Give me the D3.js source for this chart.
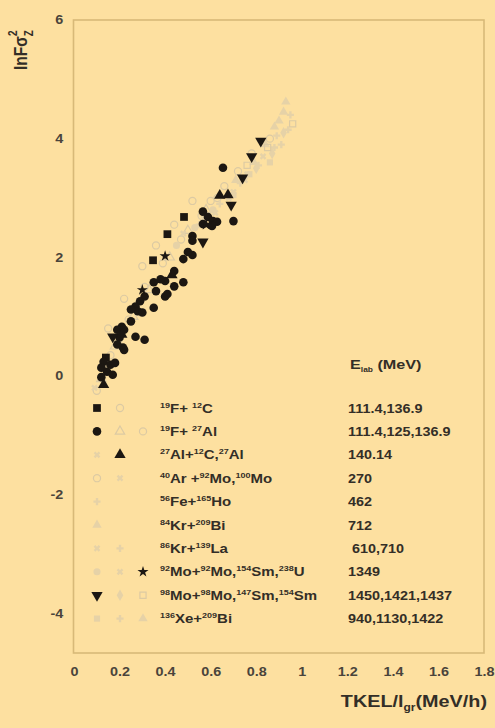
<!DOCTYPE html>
<html>
<head>
<meta charset="utf-8">
<script src="https://cdn.jsdelivr.net/npm/d3@7/dist/d3.min.js"></script>
<style>
  html, body { margin: 0; padding: 0; background: #FDE0A0; }
  svg { display: block; font-family: "Liberation Sans", Arial, sans-serif; }
</style>
</head>
<body>
<svg id="chart" width="495" height="728"></svg>
<script>
// ---- axis ticks ----
const xTicks = [0, 0.2, 0.4, 0.6, 0.8, 1, 1.2, 1.4, 1.6, 1.8];
const xTickLabels = ["0", "0.2", "0.4", "0.6", "0.8", "1", "1.2", "1.4", "1.6", "1.8"];
const yTicks = [-4, -2, 0, 2, 4, 6];
const yTickLabels = ["-4", "-2", "0", "2", "4", "6"];

// ---- legend rows: reaction and bombarding energies ----
const reactions = [
  "^{19}F+ ^{12}C",
  "^{19}F+ ^{27}Al",
  "^{27}Al+^{12}C,^{27}Al",
  "^{40}Ar +^{92}Mo,^{100}Mo",
  "^{56}Fe+^{165}Ho",
  "^{84}Kr+^{209}Bi",
  "^{86}Kr+^{139}La",
  "^{92}Mo+^{92}Mo,^{154}Sm,^{238}U",
  "^{98}Mo+^{98}Mo,^{147}Sm,^{154}Sm",
  "^{136}Xe+^{209}Bi"
];
const energies = [
  "111.4,136.9",
  "111.4,125,136.9",
  "140.14",
  "270",
  "462",
  "712",
  " 610,710",
  "1349",
  "1450,1421,1437",
  "940,1130,1422"
];

// ---- measured points [TKEL/l_gr, ln F sigma_Z^2] ----
const fC_dark = [[0.347, 1.95], [0.41, 2.39], [0.483, 2.68], [0.14, 0.31]];
const fC_light = [[0.15, 0.80], [0.22, 1.30], [0.30, 1.85], [0.36, 2.20], [0.44, 2.55], [0.52, 2.95]];
const fAl_dark = [
  [0.654, 3.51], [0.566, 2.77], [0.588, 2.68], [0.61, 2.61], [0.628, 2.60], [0.606, 2.53],
  [0.70, 2.61], [0.566, 2.56], [0.52, 2.36], [0.52, 2.28], [0.52, 2.04], [0.50, 2.09],
  [0.48, 1.97], [0.44, 1.77], [0.40, 1.60], [0.38, 1.63], [0.35, 1.58], [0.48, 1.58],
  [0.44, 1.51], [0.36, 1.43], [0.40, 1.34], [0.31, 1.34], [0.29, 1.26], [0.27, 1.17],
  [0.28, 1.09], [0.25, 1.12], [0.35, 1.15], [0.21, 0.83], [0.19, 0.78], [0.22, 0.78],
  [0.27, 0.66], [0.31, 0.61], [0.20, 0.65], [0.215, 0.48], [0.19, 0.53], [0.22, 0.44],
  [0.13, 0.24], [0.16, 0.19], [0.12, 0.14], [0.145, 0.07], [0.17, 0.02],
  [0.18, 0.22], [0.12, -0.02], [0.25, 0.92], [0.41, 1.38], [0.30, 1.07]
];
const fAl_lightTri = [[0.12, -0.05], [0.18, 0.50], [0.26, 1.00], [0.33, 1.45], [0.42, 2.00], [0.50, 2.45], [0.58, 2.80]];
const fAl_lightCirc = [[0.10, -0.25], [0.16, 0.35], [0.24, 0.95], [0.31, 1.50], [0.39, 1.90], [0.47, 2.30], [0.56, 2.70], [0.63, 3.00]];
const alAl_light = [[0.09, -0.20], [0.14, 0.15], [0.20, 0.55], [0.28, 1.05]];
const alAl_dark = [[0.64, 3.04], [0.676, 3.05], [0.13, -0.15], [0.21, 0.70], [0.43, 1.70]];
const arMo_circ = [[0.60, 2.95], [0.66, 3.20], [0.72, 3.45], [0.78, 3.75], [0.86, 4.00]];
const arMo_x = [[0.62, 2.75], [0.70, 3.10], [0.76, 3.40]];
const feHo = [[0.55, 2.55], [0.64, 2.90], [0.73, 3.25], [0.81, 3.55], [0.88, 3.85]];
const krBi = [[0.93, 4.62], [0.90, 4.30], [0.84, 3.90], [0.79, 3.60], [0.71, 3.30]];
const krLa_a = [[0.68, 3.00], [0.75, 3.30], [0.83, 3.70]];
const krLa_b = [[0.89, 4.05], [0.95, 4.40]];
const mo92_circ = [[0.45, 2.20], [0.53, 2.50], [0.61, 2.80]];
const mo92_x = [[0.48, 2.40], [0.57, 2.65]];
const mo92_dark = [[0.40, 2.02], [0.30, 1.45], [0.58, 2.55]];
const mo98_dark = [[0.82, 3.96], [0.78, 3.70], [0.74, 3.34], [0.69, 2.88], [0.566, 2.26], [0.17, 0.66]];
const mo98_lightA = [[0.80, 3.50], [0.87, 3.75], [0.92, 4.10]];
const mo98_lightB = [[0.76, 3.55], [0.85, 3.85], [0.96, 4.25]];
const xeBi_a = [[0.70, 3.05], [0.77, 3.40], [0.86, 3.60]];
const xeBi_b = [[0.91, 3.90], [0.94, 4.15]];
const xeBi_c = [[0.88, 4.20], [0.92, 4.45]];

// marker groups: legend row, legend column, symbol and tone
const groups = [
  { row: 0, col: 1, shape: "circle", open: true, dark: false, pts: fC_light },
  { row: 1, col: 1, shape: "triangle", open: true, dark: false, pts: fAl_lightTri },
  { row: 1, col: 2, shape: "circle", open: true, dark: false, pts: fAl_lightCirc },
  { row: 2, col: 0, shape: "times", open: false, dark: false, pts: alAl_light },
  { row: 3, col: 0, shape: "circle", open: true, dark: false, pts: arMo_circ },
  { row: 3, col: 1, shape: "times", open: false, dark: false, pts: arMo_x },
  { row: 4, col: 0, shape: "plus", open: false, dark: false, pts: feHo },
  { row: 5, col: 0, shape: "triangle", open: false, dark: false, pts: krBi },
  { row: 6, col: 0, shape: "times", open: false, dark: false, pts: krLa_a },
  { row: 6, col: 1, shape: "plus", open: false, dark: false, pts: krLa_b },
  { row: 7, col: 0, shape: "circle", open: false, dark: false, pts: mo92_circ },
  { row: 7, col: 1, shape: "times", open: false, dark: false, pts: mo92_x },
  { row: 8, col: 1, shape: "diamond", open: false, dark: false, pts: mo98_lightA },
  { row: 8, col: 2, shape: "square", open: true, dark: false, pts: mo98_lightB },
  { row: 9, col: 0, shape: "square", open: false, dark: false, pts: xeBi_a },
  { row: 9, col: 1, shape: "plus", open: false, dark: false, pts: xeBi_b },
  { row: 9, col: 2, shape: "triangle", open: false, dark: false, pts: xeBi_c },
  { row: 0, col: 0, shape: "square", open: false, dark: true, pts: fC_dark },
  { row: 1, col: 0, shape: "circle", open: false, dark: true, pts: fAl_dark },
  { row: 2, col: 1, shape: "triangle", open: false, dark: true, pts: alAl_dark },
  { row: 7, col: 2, shape: "star", open: false, dark: true, pts: mo92_dark },
  { row: 8, col: 0, shape: "down", open: false, dark: true, pts: mo98_dark }
];

const svg = d3.select("#chart");
const W = 495, H = 728;
const pLeft = 74, pRight = 484, pTop = 20, pBottom = 653;
const SX = 1.2; // horizontal stretch of lettering

svg.append("rect").attr("width", W).attr("height", H).attr("fill", "#FDE0A0");

const x = d3.scaleLinear().domain([0, 1.8]).range([pLeft, pRight]);
const y = d3.scaleLinear().domain([-4.67, 6]).range([pBottom, pTop]);

const textCol = "#332e27";
const tickCol = "#4a443b";
const darkCol = "#1c1712";
const lightStroke = "#dccaa3";
const lightFill = "#e6d2a7";

// plot frame
svg.append("rect")
  .attr("x", pLeft - 0.5).attr("y", pTop)
  .attr("width", pRight - pLeft + 0.5).attr("height", pBottom - pTop)
  .attr("fill", "none").attr("stroke", "#d8b978").attr("stroke-width", 1.6);

// axes (labels only, no tick lines)
const xAxis = d3.axisBottom(x).tickValues(xTicks).tickSize(0).tickPadding(14)
  .tickFormat((d, i) => xTickLabels[i]);
const gx = svg.append("g").attr("transform", `translate(0,${pBottom})`).call(xAxis);
gx.select(".domain").remove();
gx.selectAll("text").attr("font-size", 12).attr("font-weight", "bold").attr("fill", tickCol)
  .attr("font-family", "Liberation Sans, Arial, sans-serif")
  .attr("transform", `scale(${SX},1)`);

const yAxis = d3.axisLeft(y).tickValues(yTicks).tickSize(0).tickPadding(9)
  .tickFormat((d, i) => yTickLabels[i]);
const gy = svg.append("g").attr("transform", `translate(${pLeft},0)`).call(yAxis);
gy.select(".domain").remove();
gy.selectAll("text").attr("font-size", 12).attr("font-weight", "bold").attr("fill", tickCol)
  .attr("font-family", "Liberation Sans, Arial, sans-serif")
  .attr("transform", `scale(${SX},1)`);

// stretched text placed at (px, py)
function stext(px, py, size) {
  return svg.append("g").attr("transform", `translate(${px},${py}) scale(${SX},1)`)
    .append("text").attr("font-size", size).attr("font-weight", "bold")
    .attr("fill", textCol).attr("xml:space", "preserve");
}

// axis titles
const xt = stext(487, 707, 16.5).attr("text-anchor", "end");
xt.append("tspan").text("TKEL/l");
xt.append("tspan").attr("font-size", 10).attr("dy", 4).text("gr");
xt.append("tspan").attr("dy", -4).text("(MeV/h)");

const yt = svg.append("g").attr("transform", "translate(27,70) rotate(-90) scale(1,1.2)")
  .append("text").attr("font-size", 15.5).attr("font-weight", "bold").attr("fill", textCol);
yt.append("tspan").text("lnF\u03c3");
yt.append("tspan").attr("font-size", 10).attr("dy", 5).text("Z");
yt.append("tspan").attr("font-size", 10).attr("dx", -6).attr("dy", -13).text("2");

// symbols
function symPath(shape, size) {
  const map = {
    circle: d3.symbolCircle, square: d3.symbolSquare, triangle: d3.symbolTriangle,
    down: d3.symbolTriangle, star: d3.symbolStar, plus: d3.symbolCross,
    times: d3.symbolCross, diamond: d3.symbolDiamond
  };
  return d3.symbol().type(map[shape]).size(size)();
}
function symRot(shape) {
  if (shape === "down") return 180;
  if (shape === "times") return 45;
  return 0;
}
function sizeFor(g) {
  if (g.shape === "square") return g.dark ? 60 : 38;
  if (g.shape === "circle") return g.dark ? 58 : 40;
  if (g.shape === "star") return 38;
  if (g.shape === "plus" || g.shape === "times") return 28;
  return g.dark ? 55 : 38;
}
function styleMark(sel, g) {
  if (g.dark) {
    sel.attr("fill", darkCol).attr("stroke", "none");
  } else if (g.open) {
    sel.attr("fill", "none").attr("stroke", lightStroke).attr("stroke-width", 1.2);
  } else {
    sel.attr("fill", lightFill).attr("stroke", "none");
  }
}

const marks = svg.append("g");
groups.forEach(g => {
  const sel = marks.append("g").selectAll("path").data(g.pts).join("path")
    .attr("d", symPath(g.shape, sizeFor(g)))
    .attr("transform", d => `translate(${x(d[0])},${y(d[1])}) rotate(${symRot(g.shape)})`);
  styleMark(sel, g);
});

// legend
const rowY = i => 408 + i * 23.4;
const colX = [97, 120, 143];

const head = stext(350, 369, 13.5);
head.append("tspan").text("E");
head.append("tspan").attr("font-size", 7).attr("dy", 3).text("lab");
head.append("tspan").attr("dy", -3).text(" (MeV)");

groups.forEach(g => {
  const sel = svg.append("path")
    .attr("d", symPath(g.shape, sizeFor(g)))
    .attr("transform", `translate(${colX[g.col]},${rowY(g.row)}) rotate(${symRot(g.shape)})`);
  styleMark(sel, g);
});

function richText(sel, str) {
  const re = /\^\{([^}]*)\}|([^^]+)/g;
  let m, raised = false;
  while ((m = re.exec(str)) !== null) {
    if (m[1] !== undefined) {
      sel.append("tspan").attr("font-size", 7.5).attr("dy", raised ? 0 : -5).text(m[1]);
      raised = true;
    } else {
      sel.append("tspan").attr("dy", raised ? 5 : 0).text(m[2]);
      raised = false;
    }
  }
}

reactions.forEach((r, i) => {
  richText(stext(160, rowY(i) + 4.5, 12.5), r);
});
energies.forEach((e, i) => {
  stext(348, rowY(i) + 4.5, 12).text(e);
});
</script>
</body>
</html>
